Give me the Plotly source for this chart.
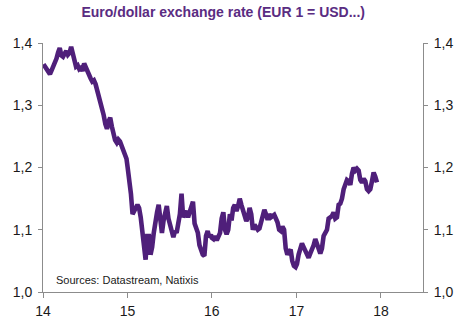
import pandas as pd
import plotly.graph_objects as go

# Weekly EUR/USD values
eur_2014 = [1.366, 1.362, 1.358, 1.352, 1.350,
            1.356, 1.362, 1.372, 1.375,
            1.385, 1.392, 1.380, 1.378,
            1.383, 1.387, 1.381, 1.384,
            1.394, 1.385, 1.372, 1.362, 1.364,
            1.358, 1.360, 1.355, 1.367,
            1.360, 1.352, 1.346, 1.343,
            1.338, 1.340, 1.334, 1.324, 1.318,
            1.310, 1.294, 1.284, 1.270,
            1.262, 1.274, 1.280, 1.266,
            1.250, 1.244, 1.240, 1.245,
            1.242, 1.235, 1.228, 1.222, 1.214]
eur_2015 = [1.200, 1.180, 1.158, 1.125, 1.132,
            1.135, 1.140, 1.135, 1.120,
            1.094, 1.062, 1.052, 1.090,
            1.090, 1.060, 1.072, 1.095, 1.120,
            1.128, 1.140, 1.110, 1.095,
            1.115, 1.128, 1.138, 1.118,
            1.108, 1.098, 1.088, 1.098,
            1.095, 1.110, 1.125, 1.158,
            1.120, 1.126, 1.130, 1.120,
            1.128, 1.138, 1.145, 1.110, 1.100,
            1.095, 1.075, 1.065, 1.060,
            1.058, 1.090, 1.098, 1.088, 1.092]
eur_2016 = [1.087, 1.085, 1.090, 1.083, 1.088,
            1.095, 1.118, 1.128, 1.100,
            1.093, 1.100, 1.125, 1.115,
            1.135, 1.140, 1.130, 1.138,
            1.150, 1.140, 1.130, 1.120, 1.114,
            1.120, 1.135, 1.125, 1.100,
            1.108, 1.105, 1.100, 1.102,
            1.115, 1.120, 1.132, 1.125,
            1.116, 1.125, 1.120, 1.122, 1.124,
            1.118, 1.112, 1.100, 1.098,
            1.105, 1.100, 1.070, 1.060,
            1.065, 1.068, 1.050, 1.042, 1.040]
eur_2017 = [1.045, 1.060, 1.070, 1.078,
            1.072, 1.065, 1.060, 1.055,
            1.062, 1.068, 1.075, 1.085, 1.078,
            1.068, 1.062, 1.070, 1.090,
            1.095, 1.100, 1.118, 1.120,
            1.122, 1.128, 1.118, 1.120, 1.140,
            1.142, 1.150, 1.165, 1.172,
            1.180, 1.178, 1.172, 1.190, 1.200,
            1.195, 1.198, 1.195, 1.180,
            1.176, 1.182, 1.178, 1.165,
            1.162, 1.165, 1.178, 1.192,
            1.185, 1.176]

year_spans = [("2014-01-03", "2014-12-28", eur_2014),
              ("2015-01-02", "2015-12-28", eur_2015),
              ("2016-01-01", "2016-12-28", eur_2016),
              ("2017-01-03", "2017-12-15", eur_2017)]

dates, values = [], []
for start, end, vals in year_spans:
    dates.extend(pd.date_range(start, end, periods=len(vals)))
    values.extend(vals)

x_ticks = ["2014-01-01", "2015-01-01", "2016-01-01", "2017-01-01", "2018-01-01"]
x_labels = ["14", "15", "16", "17", "18"]
y_ticks = [1.0, 1.1, 1.2, 1.3, 1.4]

line_color = "#4F1F7A"
axis_color = "#8C8C8C"
font_color = "#1A1A1A"

fig = go.Figure()
fig.add_trace(go.Scatter(x=dates, y=values, mode="lines",
                         line=dict(color=line_color, width=4.6),
                         hoverinfo="skip", showlegend=False))
fig.add_trace(go.Scatter(x=dates, y=values, mode="lines", yaxis="y2",
                         line=dict(color="rgba(0,0,0,0)", width=0),
                         hoverinfo="skip", showlegend=False))

common = dict(showgrid=False, zeroline=False, showline=True, linecolor=axis_color,
              linewidth=1, ticks="outside", tickcolor=axis_color, automargin=False,
              tickfont=dict(size=14, color=font_color))

fig.update_layout(
    width=472, height=324,
    margin=dict(l=43, r=49, t=43, b=32, autoexpand=False),
    paper_bgcolor="white", plot_bgcolor="white",
    separators=", ",
    font=dict(family="Liberation Sans, Arial, sans-serif", size=13, color=font_color),
    title=dict(text="<b>Euro/dollar exchange rate (EUR 1 = USD...)</b>",
               x=0.473, xanchor="center", y=0.962, yanchor="middle",
               font=dict(size=14, color="#5A2C82")),
    xaxis=dict(range=["2014-01-01", "2018-07-02"], tickvals=x_ticks, ticktext=x_labels,
               ticklen=5, ticklabelstandoff=1, **common),
    yaxis=dict(range=[1.0, 1.4], tickvals=y_ticks, tickformat=".1f",
               ticklen=4, ticklabelstandoff=3, **common),
    yaxis2=dict(range=[1.0, 1.4], tickvals=y_ticks, tickformat=".1f",
                overlaying="y", side="right",
                ticklen=4, ticklabelstandoff=3, **common),
)

fig.add_annotation(text="Sources: Datastream, Natixis", xref="paper", yref="paper",
                   x=0.03, y=0.05, xanchor="left", yanchor="middle", showarrow=False,
                   font=dict(size=11, color=font_color))

fig.write_html("out.html")
